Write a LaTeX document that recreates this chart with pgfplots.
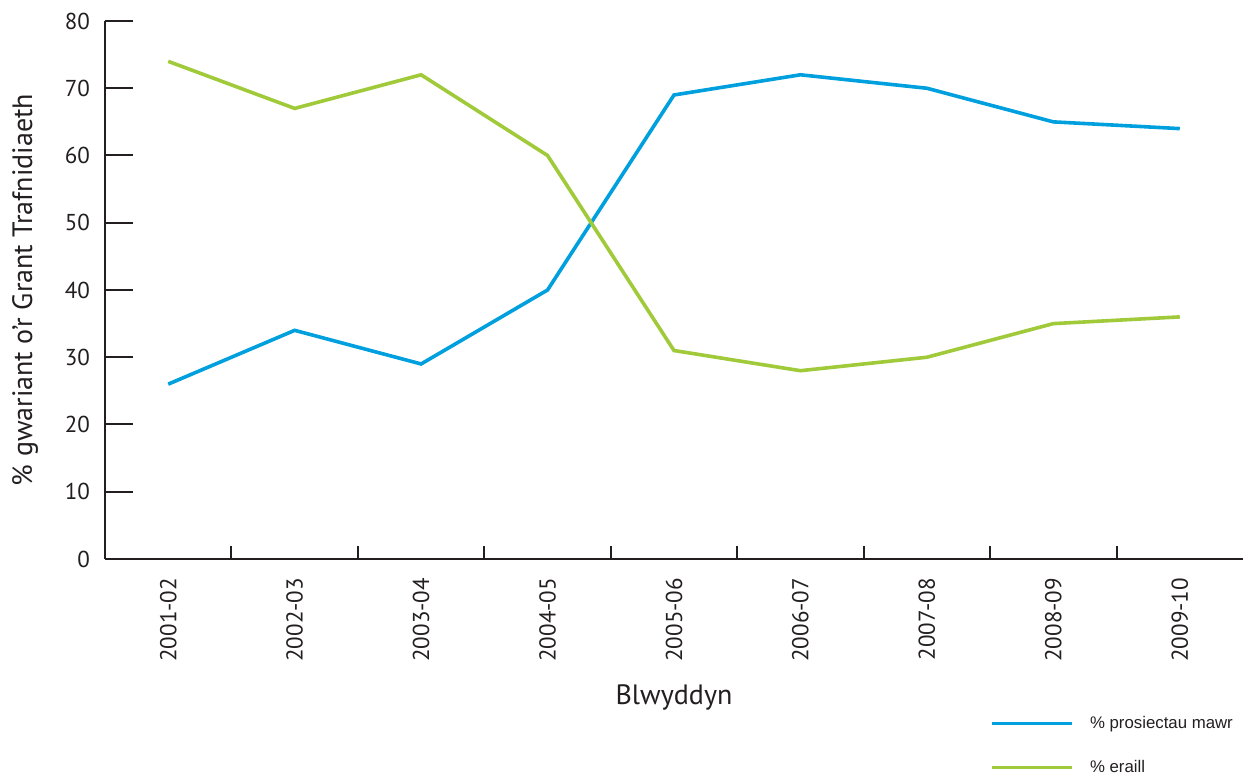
\documentclass[border=0pt]{standalone}
\usepackage{fontspec}
\setmainfont{PT Sans}
\newfontfamily\arial{Liberation Sans}
\usepackage{pgfplots}
\pgfplotsset{compat=1.18}
\definecolor{mawr}{RGB}{0,160,222}
\definecolor{eraill}{RGB}{160,202,58}
\definecolor{axisgrey}{RGB}{35,31,32}
\begin{document}
\begin{tikzpicture}
\useasboundingbox (-52.5pt,-107.5pt) rectangle (569pt,279.5pt);
\begin{axis}[
    scale only axis,
    width=569pt, height=269pt,
    xmin=-0.5, xmax=8.5,
    ymin=0, ymax=80,
    axis x line*=bottom,
    axis y line*=left,
    axis line style={axisgrey, line width=1pt, -},
    xtick={0,...,8},
    xticklabels={2001-02,2002-03,2003-04,2004-05,2005-06,2006-07,2007-08,2008-09,2009-10},
    minor xtick={0.5,1.5,...,7.5},
    ytick={0,10,...,80},
    tick align=inside,
    major x tick style={draw=none},
    every minor tick/.style={axisgrey, line width=1pt},
    minor tick length=6.5pt,
    major tick length=14pt,
    every tick/.append style={axisgrey, line width=1pt},
    /pgf/number format/assume math mode=true,
    ticklabel style={font=\fontsize{11.5}{13}\selectfont, text=axisgrey},
    yticklabel style={xshift=-4pt},
    xticklabel style={rotate=90, anchor=east, xshift=-6pt},
    xlabel={Blwyddyn},
    xlabel style={at={(rel axis cs:0.5,0)}, anchor=center, yshift=-69pt, font=\fontsize{14}{16}\selectfont, text=axisgrey},
    ylabel={\% gwariant o’r Grant Trafnidiaeth},
    ylabel style={at={(axis description cs:-0.0703,0.5)}, anchor=center, font=\fontsize{14}{16}\selectfont, text=axisgrey},
    legend style={draw=none, fill=none, at={(rel axis cs:0.7777,-0.3467)}, anchor=west,
        font=\arial\fontsize{8.4}{10}\selectfont, text=axisgrey, row sep=10.5pt, inner sep=0pt},
    legend cell align=left,
    legend image code/.code={\draw[#1] (0pt,0pt) -- (40pt,0pt); \path (46pt,0pt);},
]
\addplot[mawr, line width=1.8pt] coordinates {
    (0,26) (1,34) (2,29) (3,40) (4,69) (5,72) (6,70) (7,65) (8,64)
};
\addplot[eraill, line width=1.8pt] coordinates {
    (0,74) (1,67) (2,72) (3,60) (4,31) (5,28) (6,30) (7,35) (8,36)
};
\legend{\% prosiectau mawr, \% eraill}
\end{axis}
\end{tikzpicture}
\end{document}
